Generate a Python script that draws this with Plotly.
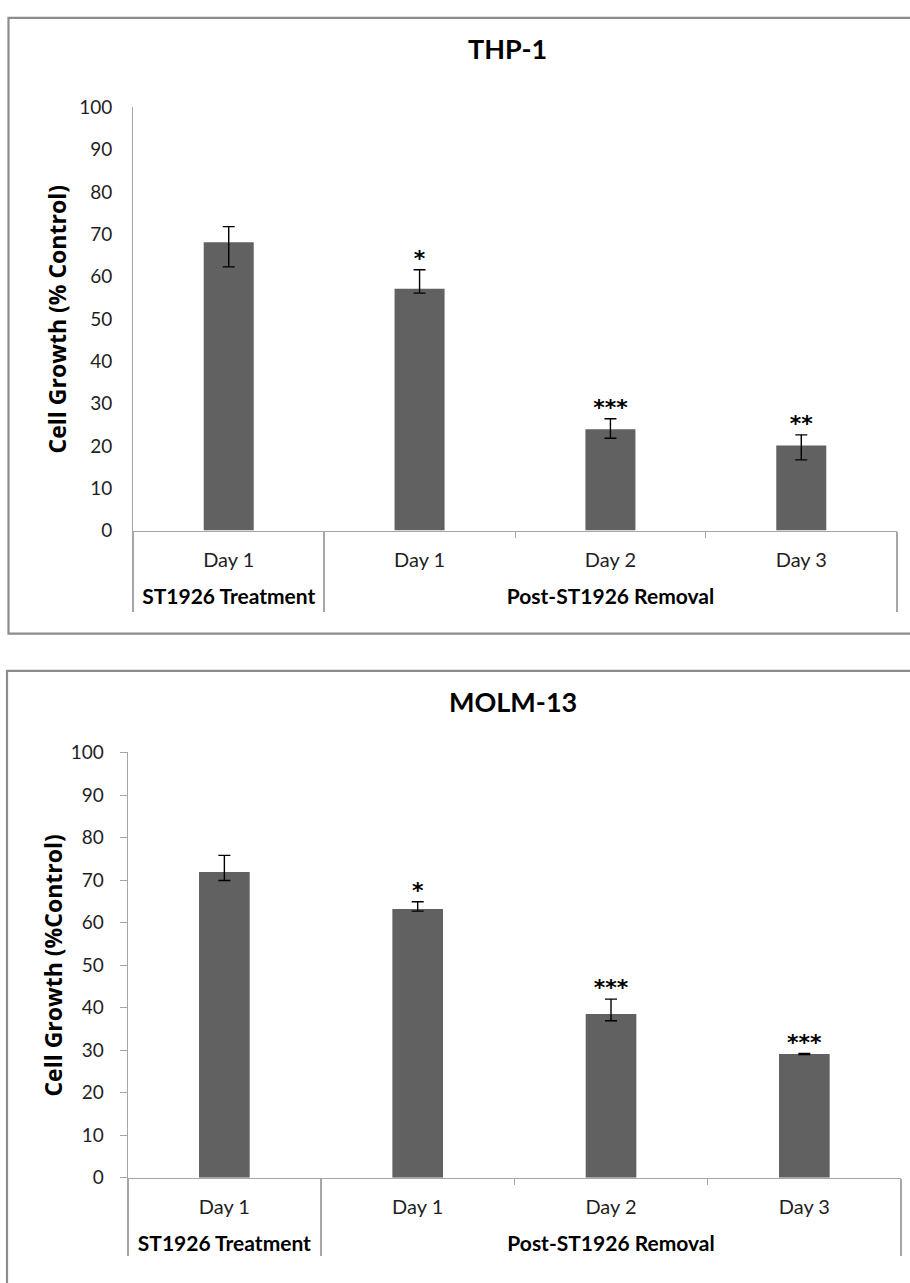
import plotly.graph_objects as go

# ---------------- data ----------------
groups = ["ST1926 Treatment", "Post-ST1926 Removal", "Post-ST1926 Removal", "Post-ST1926 Removal"]
days = ["Day 1", "Day 1", "Day 2", "Day 3"]

thp1_values = [68.1, 57.1, 23.9, 20.1]
thp1_err_plus = [3.7, 4.5, 2.5, 2.5]
thp1_err_minus = [5.8, 1.0, 2.1, 3.4]
thp1_stars = ["", "*", "***", "**"]

molm13_values = [71.9, 63.2, 38.5, 29.1]
molm13_err_plus = [3.9, 1.7, 3.5, 0.15]
molm13_err_minus = [2.0, 0.5, 1.6, 0.15]
molm13_stars = ["", "*", "***", "***"]

y_ticks = [0, 10, 20, 30, 40, 50, 60, 70, 80, 90, 100]

# ---------------- derived category geometry ----------------
pos = list(range(len(days)))
grp_names, grp_first, grp_last = [], [], []
for i, g in enumerate(groups):
    if not grp_names or grp_names[-1] != g:
        grp_names.append(g)
        grp_first.append(i)
        grp_last.append(i)
    else:
        grp_last[-1] = i
grp_centers = [(a + b) / 2 for a, b in zip(grp_first, grp_last)]
grp_bounds = [a - 0.5 for a in grp_first] + [grp_last[-1] + 0.5]
inner_bounds = [i + 0.5 for i in pos[:-1] if (i + 0.5) not in grp_bounds]
xrange_ = [pos[0] - 0.5, pos[-1] + 0.5]

# ---------------- style ----------------
W, H = 910, 1283
BAR = "#616161"
AX = "#a6a6a6"
BORDER = "#8c8c8c"
FONT = "Lato"
TXT = "#1f1f1f"
STAR_OFF = -0.4


def px(x):
    return x / W


def py(y):
    return 1 - y / H


fig = go.Figure()

panels = [
    dict(vals=thp1_values, ep=thp1_err_plus, em=thp1_err_minus, stars=thp1_stars,
         xa="x", ya="y", over=["x3", "x5", "x7"]),
    dict(vals=molm13_values, ep=molm13_err_plus, em=molm13_err_minus, stars=molm13_stars,
         xa="x2", ya="y2", over=["x4", "x6", "x8"]),
]

for p in panels:
    fig.add_trace(go.Bar(
        x=pos, y=p["vals"], xaxis=p["xa"], yaxis=p["ya"], width=0.262,
        marker=dict(color=BAR, line=dict(width=0)),
        error_y=dict(type="data", symmetric=False, array=p["ep"], arrayminus=p["em"],
                     color="black", thickness=1.4, width=6),
        showlegend=False, hoverinfo="skip",
    ))
    fig.add_trace(go.Scatter(
        x=pos, y=[v + e + STAR_OFF for v, e in zip(p["vals"], p["ep"])],
        xaxis=p["xa"], yaxis=p["ya"], mode="text", text=p["stars"],
        textposition="top center",
        textfont=dict(family="DejaVu Sans", size=22, color="black", weight="bold"),
        showlegend=False, hoverinfo="skip",
    ))
    # empty helper traces so that the overlaying label / divider axes get drawn
    for ax in p["over"]:
        fig.add_trace(go.Scatter(
            x=pos, y=[None] * len(pos), xaxis=ax, yaxis=p["ya"], mode="markers",
            marker=dict(opacity=0), showlegend=False, hoverinfo="skip",
        ))

main_x = dict(range=xrange_, showline=True, linecolor=AX, linewidth=1.3,
              tickvals=inner_bounds, ticks="outside", ticklen=6, tickcolor=AX, tickwidth=1.3,
              showticklabels=False, showgrid=False, zeroline=False, fixedrange=True)
day_x = dict(range=xrange_, showline=False, tickvals=pos, ticktext=days, ticks="",
             showgrid=False, zeroline=False, side="bottom", ticklabelstandoff=15,
             tickfont=dict(family=FONT, size=20, color=TXT))
grp_x = dict(range=xrange_, showline=False, tickvals=grp_centers,
             ticktext=["<b>%s</b>" % g for g in grp_names], ticks="",
             showgrid=False, zeroline=False, side="bottom", ticklabelstandoff=51,
             tickfont=dict(family=FONT, size=21, color="black"))
div_x = dict(range=xrange_, showline=False, tickvals=grp_bounds, ticks="outside",
             ticklen=80, tickcolor=AX, tickwidth=1.6, showticklabels=False,
             showgrid=False, zeroline=False, side="bottom")
ycommon = dict(range=[0, 100], tickvals=y_ticks, showline=True, linecolor=AX, linewidth=1.3,
               showgrid=False, zeroline=False,
               tickfont=dict(family=FONT, size=19, color=TXT))

fig.update_layout(
    width=W, height=H, margin=dict(l=0, r=0, t=0, b=0),
    paper_bgcolor="white", plot_bgcolor="white", showlegend=False,
    xaxis=dict(main_x, domain=[px(133.3), px(896.7)], anchor="y"),
    xaxis3=dict(day_x, overlaying="x", anchor="y"),
    xaxis5=dict(grp_x, overlaying="x", anchor="y"),
    xaxis7=dict(div_x, overlaying="x", anchor="y"),
    yaxis=dict(ycommon, domain=[py(528), py(97)], anchor="x", ticks="",
               ticklabelstandoff=16),
    xaxis2=dict(main_x, domain=[px(127.7), px(901)], anchor="y2"),
    xaxis4=dict(day_x, overlaying="x2", anchor="y2"),
    xaxis6=dict(grp_x, overlaying="x2", anchor="y2"),
    xaxis8=dict(div_x, overlaying="x2", anchor="y2", ticklen=77),
    yaxis2=dict(ycommon, domain=[py(1187), py(754)], anchor="x2", ticks="outside",
                ticklen=7, tickcolor=AX, tickwidth=1.3, ticklabelstandoff=12),
    annotations=[
        dict(text="<b>THP-1</b>", x=px(507), y=py(37), xref="paper", yref="paper",
             xanchor="center", yanchor="middle", showarrow=False,
             font=dict(family=FONT, size=27, color="black")),
        dict(text="<b>MOLM-13</b>", x=px(513), y=py(702), xref="paper", yref="paper",
             xanchor="center", yanchor="middle", showarrow=False,
             font=dict(family=FONT, size=27, color="black")),
        dict(text="<b>Cell Growth (% Control)</b>", x=px(57), y=py(313), xref="paper",
             yref="paper", xanchor="center", yanchor="middle", textangle=-90,
             showarrow=False, font=dict(family="Open Sans", size=23, color="black")),
        dict(text="<b>Cell Growth (%Control)</b>", x=px(53), y=py(971), xref="paper",
             yref="paper", xanchor="center", yanchor="middle", textangle=-90,
             showarrow=False, font=dict(family="Open Sans", size=23, color="black")),
    ],
    shapes=[
        dict(type="rect", xref="paper", yref="paper", x0=px(8.5), x1=1.02,
             y0=py(633), y1=py(6), line=dict(color=BORDER, width=2.2)),
        dict(type="rect", xref="paper", yref="paper", x0=px(7), x1=1.02,
             y0=-0.02, y1=py(671), line=dict(color=BORDER, width=2.2)),
    ],
)

fig.write_html("out.html")
